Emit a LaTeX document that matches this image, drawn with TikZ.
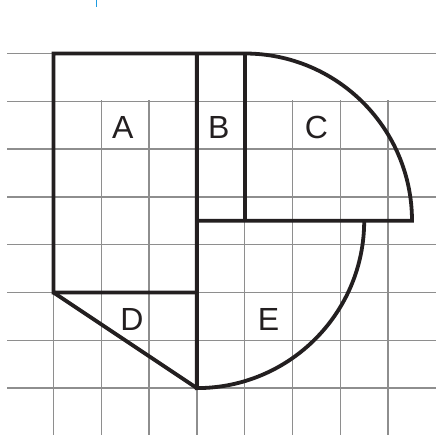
\documentclass[tikz,border=0pt]{standalone}
\usepackage{fontspec}
\setmainfont{Liberation Sans}
\definecolor{ink}{HTML}{231F20}
\definecolor{gridgray}{HTML}{8E8E8E}
\definecolor{tickblue}{HTML}{1E9BE0}
\begin{document}
\begin{tikzpicture}[x=47.8pt,y=47.8pt,
  gridbar/.style={fill=gridgray,draw=none},
  outline/.style={draw=ink,line width=3.8pt,line join=miter},
  lab/.style={text=ink,font=\fontsize{32}{32}\selectfont,inner sep=0pt}]
\fill[white] (-1.119,1.119) rectangle (8.002,-7.981);
\useasboundingbox (-1.119,1.119) rectangle (8.002,-7.981);
% grid as thin bars
\foreach \k in {0,...,7} {
  \fill[gridbar] ([xshift=-0.75pt]\k,-0.973) rectangle ([xshift=0.75pt]\k,-7.981);
  \fill[gridbar] ([yshift=0.75pt]-0.973,-\k) rectangle ([yshift=-0.75pt]8.002,-\k);
}
% blue tick
\draw[draw=tickblue,line width=1.5pt] (0.895,1.119) -- (0.895,0.979);
% outlines
\draw[outline] (3,-5) -- (0,-5) -- (0,0) -- (4,0) arc[start angle=90,end angle=0,radius=3.5] -- (3,-3.5);
\draw[outline] (3,0) -- (3,-7) arc[start angle=-90,end angle=0,radius=3.5];
\draw[outline] (4,0) -- (4,-3.5);
\draw[outline] (0,-5) -- (3,-7);
% labels
\node[lab] (A) at (1.45,-1.54) {A};
\node[lab] (B) at (3.46,-1.54) {B};
\node[lab] (C) at (5.5,-1.54) {C};
\node[lab] (D) at (1.64,-5.57) {D};
\node[lab] (E) at (4.5,-5.57) {E};
\end{tikzpicture}
\end{document}
